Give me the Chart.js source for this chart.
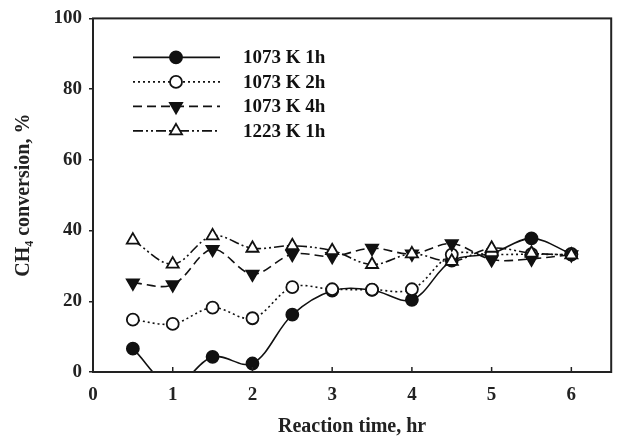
<!DOCTYPE html>
<html>
<head>
<meta charset="utf-8">
<script src="https://cdn.jsdelivr.net/npm/chart.js@4.4.1/dist/chart.umd.min.js"></script>
<style>
    body { margin: 0; background: #fff; }
    #grafico { display: block; }
</style>
</head>
<body>
<canvas id="grafico" width="620" height="440"></canvas>
<script>
// Dados (tempo de reação em horas, conversão de CH4 em %)
const temposReacao = [0.5, 1, 1.5, 2, 2.5, 3, 3.5, 4, 4.5, 5, 5.5, 6];
const nomesSeries = ['1073 K 1h', '1073 K 2h', '1073 K 4h', '1223 K 1h'];
const conv1073K1h = [6.6, -4, 4.3, 2.4, 16.2, 23.0, 23.2, 20.4, 31.5, 33.5, 37.8, 33.4];
const conv1073K2h = [14.8, 13.6, 18.2, 15.2, 24.0, 23.4, 23.3, 23.4, 33.2, 33.2, 33.3, 33.2];
const conv1073K4h = [25.2, 24.7, 34.7, 27.7, 33.3, 32.7, 35.0, 33.4, 36.3, 31.8, 32.0, 33.2];
const conv1223K1h = [37.3, 30.5, 38.5, 35.0, 35.7, 34.3, 30.4, 33.4, 31.3, 35.0, 33.6, 33.1];
const ticksY = [0, 20, 40, 60, 80, 100];
const ticksX = [0, 1, 2, 3, 4, 5, 6];

const corLinha = '#111';
const fonteTick = { family: '"Liberation Serif", "Times New Roman", serif', size: 19, weight: 'bold' };
const fonteTitulo = { family: '"Liberation Serif", "Times New Roman", serif', size: 20, weight: 'bold' };

// Junta os tempos com os valores de cada série
function montarPontos(valores) {
    return temposReacao.map((t, i) => ({ x: t, y: valores[i] }));
}

// Estilo de cada série (linha e marcador)
const estilos = [
    { valores: conv1073K1h, dash: [], ponto: 'circle', fundo: corLinha, rot: 0, raio: 6 },
    { valores: conv1073K2h, dash: [2, 3], ponto: 'circle', fundo: '#fff', rot: 0, raio: 6 },
    { valores: conv1073K4h, dash: [9, 5], ponto: 'triangle', fundo: corLinha, rot: 180, raio: 7 },
    { valores: conv1223K1h, dash: [10, 3, 2, 3, 2, 3], ponto: 'triangle', fundo: '#fff', rot: 0, raio: 7 }
];

const datasets = estilos.map((e, i) => ({
    label: nomesSeries[i],
    data: montarPontos(e.valores),
    borderColor: corLinha,
    borderWidth: 1.6,
    borderDash: e.dash,
    tension: 0.35,
    pointStyle: e.ponto,
    pointRotation: e.rot,
    pointRadius: e.raio,
    pointBackgroundColor: e.fundo,
    pointBorderColor: corLinha,
    pointBorderWidth: 1.8,
    clip: 0,
    order: 4 - i
}));

// Moldura do gráfico, marcas do eixo x para dentro e legenda dentro da área
const pluginMoldura = {
    id: 'moldura',
    afterDraw(chart) {
        const ctx = chart.ctx;
        const area = chart.chartArea;
        const escalaX = chart.scales.x;
        ctx.save();
        ctx.strokeStyle = '#222';
        ctx.lineWidth = 1.5;
        ctx.setLineDash([]);
        ticksX.forEach(v => {
            const px = escalaX.getPixelForValue(v);
            ctx.beginPath();
            ctx.moveTo(px, area.bottom);
            ctx.lineTo(px, area.bottom - 5);
            ctx.stroke();
        });
        ctx.lineWidth = 2;
        ctx.strokeRect(area.left, area.top, area.right - area.left, area.bottom - area.top);

        // Legenda
        const x0 = area.left + 40;
        const x1 = area.left + 127;
        const xm = area.left + 83;
        chart.data.datasets.forEach((ds, i) => {
            const y = area.top + 39 + i * 24.5;
            ctx.strokeStyle = corLinha;
            ctx.lineWidth = ds.borderWidth;
            ctx.setLineDash(ds.borderDash);
            ctx.beginPath();
            ctx.moveTo(x0, y);
            ctx.lineTo(x1, y);
            ctx.stroke();
            ctx.setLineDash([]);
            ctx.fillStyle = ds.pointBackgroundColor;
            ctx.lineWidth = ds.pointBorderWidth;
            Chart.helpers.drawPoint(ctx, {
                pointStyle: ds.pointStyle,
                rotation: ds.pointRotation,
                radius: ds.pointRadius,
                borderWidth: ds.pointBorderWidth
            }, xm, y);
            ctx.fillStyle = corLinha;
            ctx.font = 'bold 19px "Liberation Serif", "Times New Roman", serif';
            ctx.textBaseline = 'middle';
            ctx.textAlign = 'left';
            ctx.fillText(ds.label, area.left + 150, y + 1);
        });
        ctx.restore();
    }
};

new Chart(document.getElementById('grafico').getContext('2d'), {
    type: 'line',
    data: { datasets: datasets },
    plugins: [pluginMoldura],
    options: {
        responsive: false,
        animation: false,
        layout: { padding: { top: 14, right: 7, left: 0, bottom: 0 } },
        plugins: { legend: { display: false }, tooltip: { enabled: false } },
        scales: {
            x: {
                type: 'linear',
                min: 0,
                max: 6.5,
                afterBuildTicks: s => { s.ticks = ticksX.map(v => ({ value: v })); },
                afterFit: s => { s.height = 68; },
                ticks: { font: fonteTick, color: '#222', padding: 4, maxRotation: 0 },
                grid: { display: false },
                border: { display: false },
                title: { display: true, text: 'Reaction time, hr', font: fonteTitulo, color: '#222', padding: { top: 4, bottom: 1 } }
            },
            y: {
                min: 0,
                max: 100,
                afterBuildTicks: s => { s.ticks = ticksY.map(v => ({ value: v })); },
                afterFit: s => { s.width = 93; },
                ticks: { font: fonteTick, color: '#222', padding: 7 },
                grid: { drawOnChartArea: false, tickLength: 4, color: '#222', lineWidth: 1.5 },
                border: { display: false },
                title: { display: true, text: 'CH₄ conversion, %', font: fonteTitulo, color: '#222', padding: { top: 12, bottom: 4 } }
            }
        }
    }
});
</script>
</body>
</html>
